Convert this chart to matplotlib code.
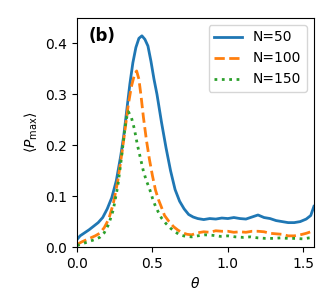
import matplotlib
matplotlib.use("Agg")
import matplotlib.pyplot as plt
import numpy as np

# N=50
theta_50 = [0, 0.02, 0.05, 0.08, 0.11, 0.14, 0.17, 0.20, 0.23, 0.26, 0.29, 0.31, 0.33,
            0.35, 0.37, 0.39, 0.41, 0.43, 0.45, 0.47, 0.49, 0.51, 0.53, 0.56, 0.59, 0.62,
            0.65, 0.68, 0.71, 0.74, 0.77, 0.80, 0.84, 0.88, 0.92, 0.96, 1.0, 1.04, 1.08,
            1.12, 1.16, 1.20, 1.24, 1.28, 1.32, 1.36, 1.40, 1.44, 1.48, 1.52, 1.55, 1.571]
p_50 = [0.015, 0.022, 0.028, 0.034, 0.041, 0.048, 0.058, 0.075, 0.097, 0.130, 0.180, 0.220, 0.270,
        0.320, 0.362, 0.392, 0.410, 0.415, 0.408, 0.395, 0.365, 0.330, 0.300, 0.245, 0.195, 0.150,
        0.113, 0.090, 0.075, 0.064, 0.059, 0.056, 0.054, 0.056, 0.055, 0.057, 0.056, 0.058, 0.056,
        0.055, 0.059, 0.063, 0.058, 0.056, 0.052, 0.050, 0.048, 0.048, 0.050, 0.055, 0.062, 0.080]

# N=100
theta_100 = [0, 0.03, 0.06, 0.09, 0.12, 0.15, 0.18, 0.21, 0.24, 0.27, 0.30, 0.32, 0.34, 0.36,
             0.38, 0.395, 0.41, 0.425, 0.44, 0.46, 0.48, 0.50, 0.52, 0.54, 0.56, 0.58, 0.61,
             0.64, 0.67, 0.70, 0.73, 0.76, 0.80, 0.84, 0.88, 0.92, 0.96, 1.0, 1.04, 1.08, 1.12,
             1.16, 1.20, 1.24, 1.28, 1.32, 1.36, 1.40, 1.44, 1.48, 1.52, 1.55, 1.571]
p_100 = [0.005, 0.010, 0.014, 0.018, 0.022, 0.027, 0.038, 0.055, 0.085, 0.130, 0.190, 0.235, 0.280, 0.315,
         0.338, 0.346, 0.330, 0.295, 0.255, 0.210, 0.172, 0.140, 0.112, 0.093, 0.078, 0.062, 0.050,
         0.040, 0.033, 0.028, 0.025, 0.024, 0.028, 0.030, 0.029, 0.032, 0.031, 0.031, 0.029, 0.030, 0.029,
         0.031, 0.031, 0.030, 0.027, 0.026, 0.025, 0.022, 0.022, 0.024, 0.027, 0.030, 0.033]

# N=150
theta_150 = [0, 0.03, 0.06, 0.09, 0.12, 0.15, 0.18, 0.21, 0.24, 0.27, 0.29, 0.31, 0.325, 0.34,
             0.36, 0.38, 0.40, 0.42, 0.44, 0.46, 0.48, 0.50, 0.52, 0.54, 0.56, 0.59, 0.62, 0.65,
             0.68, 0.72, 0.76, 0.80, 0.85, 0.90, 0.95, 1.0, 1.05, 1.10, 1.15, 1.20, 1.25, 1.30,
             1.35, 1.40, 1.45, 1.50, 1.54, 1.571]
p_150 = [0.003, 0.006, 0.009, 0.012, 0.015, 0.019, 0.028, 0.045, 0.073, 0.120, 0.165, 0.215, 0.250, 0.266,
         0.255, 0.232, 0.201, 0.175, 0.149, 0.130, 0.115, 0.096, 0.080, 0.068, 0.057, 0.046, 0.037, 0.030,
         0.024, 0.021, 0.020, 0.022, 0.024, 0.023, 0.021, 0.022, 0.020, 0.019, 0.020, 0.018, 0.017, 0.017,
         0.018, 0.017, 0.017, 0.016, 0.018, 0.019]

fig = plt.figure(figsize=(3.28, 3.05), dpi=100)
ax = fig.add_axes([0.235, 0.19, 0.722, 0.751])

ax.plot(theta_50, p_50, '-', color='C0', lw=2, label='N=50')
ax.plot(theta_100, p_100, '--', color='C1', lw=2, label='N=100')
ax.plot(theta_150, p_150, ':', color='C2', lw=2, label='N=150')

ax.set_xlim(0, np.pi / 2)
ax.set_ylim(0, 0.45)
ax.set_xticks([0, 0.5, 1.0, 1.5])
ax.set_yticks([0, 0.1, 0.2, 0.3, 0.4])
ax.set_xlabel(r'$\theta$')
ax.set_ylabel(r'$\langle P_{\max} \rangle$')
ax.text(0.05, 0.92, '(b)', transform=ax.transAxes, fontsize=12,
        fontweight='bold', va='center', ha='left')
ax.legend(loc='upper right')

fig.savefig('out.png', dpi=100)
